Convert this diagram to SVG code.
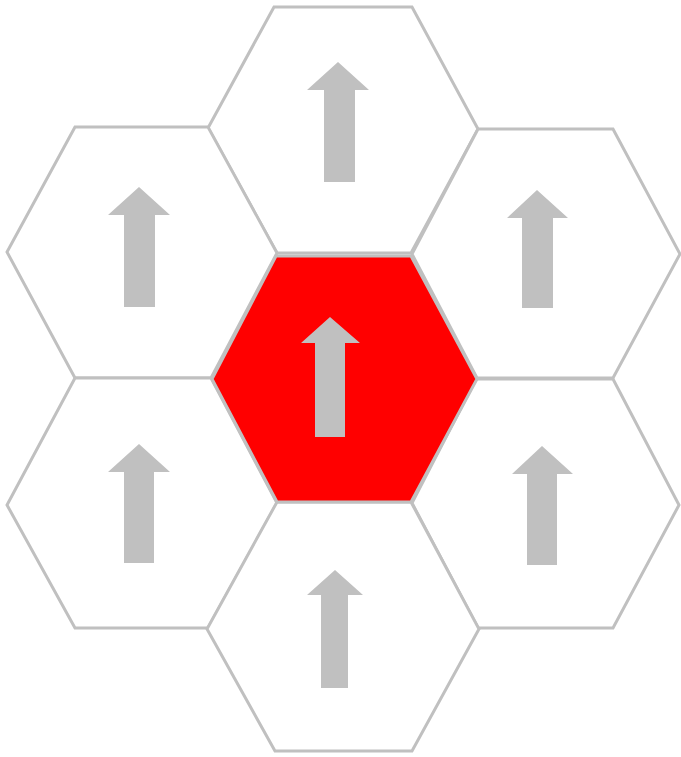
<svg xmlns="http://www.w3.org/2000/svg" width="681" height="757" viewBox="0 0 681 757">
<style>
.hex{fill:#ffffff;stroke:#c0c0c0;stroke-width:3;stroke-linejoin:miter}
.hex.red{fill:#ff0000}
.arrow{fill:#c0c0c0}
</style>
<rect width="681" height="757" fill="#ffffff"/>
<g id="hex-top">
<polygon class="hex" points="274,7 412,7 478,129 411,253 277,253 208,128"/>
<polygon class="arrow" points="338,62 369,90 355,90 355,182 324,182 324,90 307,90"/>
</g>
<g id="hex-upper-left">
<polygon class="hex" points="75,127 208,127 277,253 211,378 75,378 7,252"/>
<polygon class="arrow" points="139,187 170,215 155,215 155,307 124,307 124,215 108,215"/>
</g>
<g id="hex-upper-right">
<polygon class="hex" points="478,129 613,129 680,254 613,378 477,378 412,254"/>
<polygon class="arrow" points="537,190 568,218 553,218 553,308 522,308 522,218 507,218"/>
</g>
<g id="hex-lower-left">
<polygon class="hex" points="75,378 211,378 277,503 208,628 75,628 7,505"/>
<polygon class="arrow" points="139,444 170,472 154,472 154,563 124,563 124,472 108,472"/>
</g>
<g id="hex-lower-right">
<polygon class="hex" points="476,379 613,379 679,505 613,628 478,628 412,503"/>
<polygon class="arrow" points="542,446 573,474 557,474 557,565 527,565 527,474 512,474"/>
</g>
<g id="hex-bottom">
<polygon class="hex" points="277,502 411,502 479,629 412,751 275,751 207,629"/>
<polygon class="arrow" points="335,570 363,595 348,595 348,688 321,688 321,595 307,595"/>
</g>
<g id="hex-center">
<polygon class="hex red" points="276,256 411,256 477,379 411,502 277,502 212,379"/>
<polygon class="arrow" points="330,317 360,343 345,343 345,437 315,437 315,343 301,343"/>
</g>
<g id="connectors"></g>
</svg>
